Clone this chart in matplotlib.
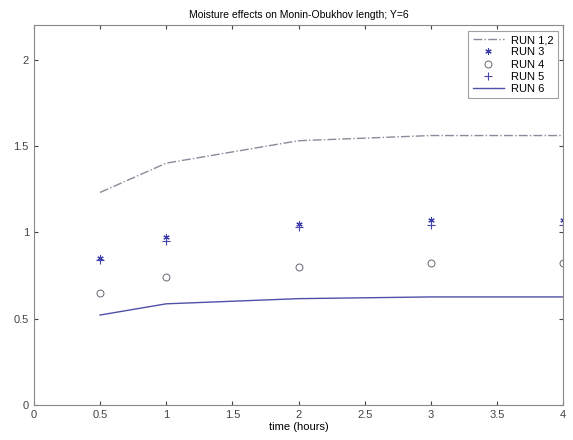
import numpy as np
import matplotlib
matplotlib.use('Agg')
import matplotlib.pyplot as plt

t = [0.5, 1, 2, 3, 4]
run12 = [1.23, 1.40, 1.53, 1.56, 1.56]
run3 = [0.85, 0.97, 1.05, 1.07, 1.07]
run4 = [0.65, 0.74, 0.80, 0.82, 0.82]
run5 = [0.84, 0.95, 1.03, 1.04, 1.04]
run6 = [0.52, 0.585, 0.615, 0.625, 0.625]

plt.rcParams['font.family'] = 'Liberation Sans'
fig = plt.figure(figsize=(5.73, 4.4), dpi=100)
ax = fig.add_axes([0.059, 0.08, 0.924, 0.863])

ax.plot(t, run12, '-.', color='#8a8a9a', lw=1, label='RUN 1,2')
ax.plot(t, run3, marker=(6, 2, 0), color='#3a3aa8', ms=4.5, mew=0.8, linestyle='none', label='RUN 3')
ax.plot(t, run4, 'o', mfc='none', mec='#666677', ms=5, mew=0.7, linestyle='none', label='RUN 4')
ax.plot(t, run5, '+', color='#4545b0', ms=5.5, mew=0.8, linestyle='none', label='RUN 5')
ax.plot(t, run6, '-', color='#5050a8', lw=1, label='RUN 6')

ax.set_xlim(0, 4)
ax.set_ylim(0, 2.2)
ax.set_xticks(np.arange(0, 4.01, 0.5))
ax.set_xticklabels(['0', '0.5', '1', '1.5', '2', '2.5', '3', '3.5', '4'])
ax.set_yticks([0, 0.5, 1, 1.5, 2])
ax.set_yticklabels(['0', '0.5', '1', '1.5', '2'])
ax.tick_params(direction='in', top=True, right=True, labelsize=8, colors='#444444', length=3)
for s in ax.spines.values():
    s.set_color('#888888')

ax.set_xlabel('time (hours)', fontsize=8, labelpad=2)
ax.set_title('Moisture effects on Monin-Obukhov length; Y=6', fontsize=7.5, pad=5)
leg = ax.legend(loc='upper right', fontsize=8, frameon=True, fancybox=False,
                edgecolor='#888888', handlelength=2.8, borderaxespad=0.5,
                labelspacing=0.2, handletextpad=0.6)
leg.get_frame().set_linewidth(0.8)

fig.savefig('out.png', dpi=100)
